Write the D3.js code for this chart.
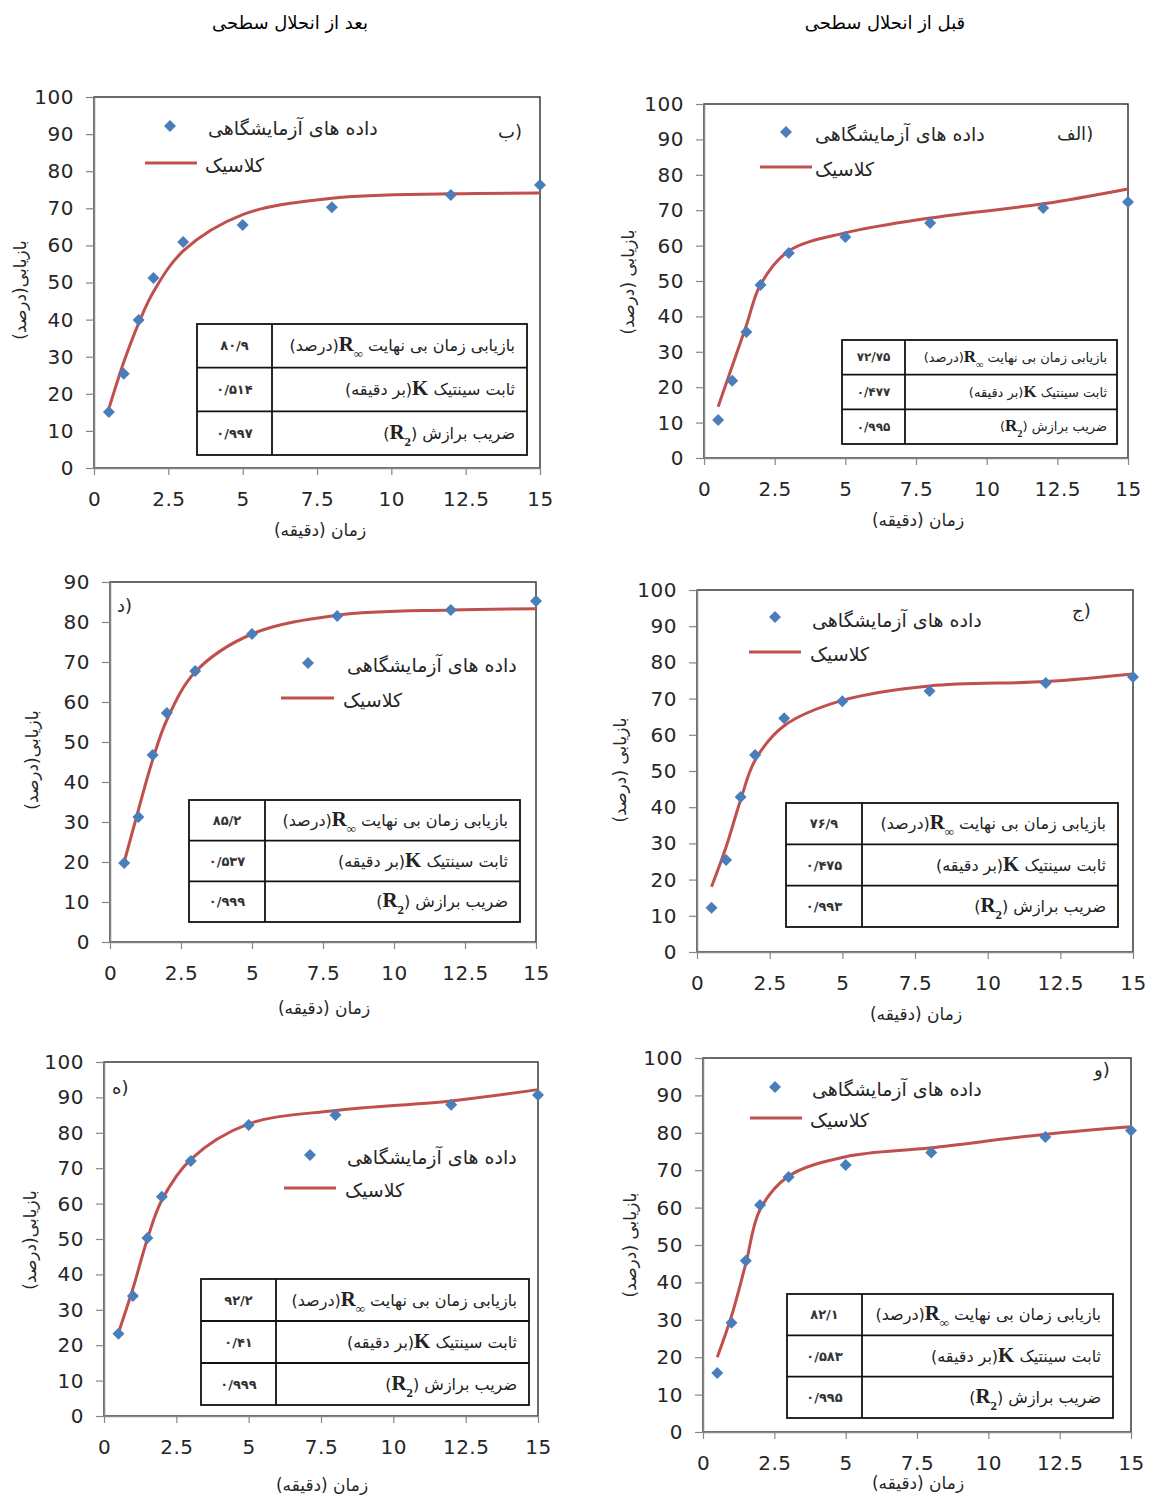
<!DOCTYPE html>
<html>
<head>
<meta charset="utf-8">
<script src="https://cdn.jsdelivr.net/npm/d3@7"></script>
<style>
  body { margin: 0; background: #fff; }
  svg { display: block; }
  .tick text { font-family: "DejaVu Sans", Verdana, sans-serif; }
</style>
</head>
<body>
<div id="chart"></div>
<script>
const width = 1157;
const height = 1501;

// sampling times (minutes) shared by every panel
const times = [0.5, 1, 1.5, 2, 3, 5, 8, 12, 15];
const xTicks = [0, 2.5, 5, 7.5, 10, 12.5, 15];

// lab data (diamonds) and classic model (red line)
const obsAlef = [10.7, 21.8, 35.6, 48.9, 57.9, 62.4, 66.4, 70.6, 72.3];
const fitAlef = [14.5, 26, 37.5, 49, 58.5, 63.6, 67.8, 71.8, 76];
const obsB = [15.1, 25.4, 39.9, 51.2, 60.9, 65.5, 70.3, 73.6, 76.3];
const fitB = [16, 28.5, 39, 47.5, 58.5, 68.3, 72.7, 73.9, 74.1];
const obsJim = [12.2, 25.4, 42.8, 54.4, 64.6, 69.3, 72.1, 74.3, 76];
const fitJim = [18, 29, 42, 53, 62.5, 69.5, 73.5, 74.7, 76.8];
const obsDal = [19.75, 31.25, 46.75, 57.25, 67.75, 77, 81.5, 83, 85.25];
const fitDal = [20, 33, 45.5, 55.5, 67.5, 77, 81.7, 83, 83.3];
const obsVav = [15.8, 29.2, 45.8, 60.7, 68.2, 71.4, 74.7, 78.9, 80.6];
const fitVav = [20, 31, 45, 59.5, 68.4, 73.6, 76, 79.6, 81.6];
const obsHe = [23.2, 33.9, 50.3, 61.9, 72, 82.2, 85, 87.9, 90.7];
const fitHe = [23.5, 36, 50, 61, 72.5, 82.5, 86.3, 89, 92.2];

// fitted parameters: R-infinity, K, R2
const tableAlef = ["۷۲/۷۵", "۰/۴۷۷", "۰/۹۹۵"];
const tableB = ["۸۰/۹", "۰/۵۱۴", "۰/۹۹۷"];
const tableJim = ["۷۶/۹", "۰/۴۷۵", "۰/۹۹۳"];
const tableDal = ["۸۵/۲", "۰/۵۳۷", "۰/۹۹۹"];
const tableVav = ["۸۲/۱", "۰/۵۸۳", "۰/۹۹۵"];
const tableHe = ["۹۲/۲", "۰/۴۱", "۰/۹۹۹"];

const colTitles = ["بعد از انحلال سطحی", "قبل از انحلال سطحی"];
const legendObs = "داده های آزمایشگاهی";
const legendFit = "کلاسیک";
const xTitle = "زمان (دقیقه)";

const blue = "#4a7ebb";
const red = "#c0504d";
const axisGray = "#868686";
const txt = "#262626";
const persian = "'DejaVu Sans', sans-serif";

const panels = [
  { label: "ب)", obs: obsB, fit: fitB, table: tableB, yMax: 100, yTitle: "بازیابی(درصد)",
    left: 94, right: 540, top: 97, bottom: 468,
    lab: [498, 138], mk: [170, 126], t1: [208, 135], ln: [145, 197, 163], t2: [205, 172],
    tb: [197, 527, 324, 455, 272], tfs: 16, xt: [320, 536], yt: [20, 290] },
  { label: "الف)", obs: obsAlef, fit: fitAlef, table: tableAlef, yMax: 100, yTitle: "بازیابی (درصد)",
    left: 704, right: 1128, top: 104, bottom: 458,
    lab: [1057, 140], mk: [786, 132], t1: [815, 141], ln: [760, 812, 167], t2: [815, 176],
    tb: [842, 1117, 340, 444, 905], tfs: 13, xt: [918, 526], yt: [628, 282] },
  { label: "د)", obs: obsDal, fit: fitDal, table: tableDal, yMax: 90, yTitle: "بازیابی(درصد)",
    left: 110, right: 536, top: 582, bottom: 942,
    lab: [117, 612], mk: [308, 663], t1: [347, 672], ln: [281, 334, 698], t2: [343, 707],
    tb: [189, 520, 800, 922, 265], tfs: 16, xt: [324, 1014], yt: [32, 760] },
  { label: "ج)", obs: obsJim, fit: fitJim, table: tableJim, yMax: 100, yTitle: "بازیابی (درصد)",
    left: 697, right: 1133, top: 590, bottom: 952,
    lab: [1072, 617], mk: [775, 617], t1: [812, 627], ln: [749, 801, 652], t2: [810, 661],
    tb: [786, 1118, 803, 927, 862], tfs: 16, xt: [916, 1020], yt: [620, 770] },
  { label: "ه)", obs: obsHe, fit: fitHe, table: tableHe, yMax: 100, yTitle: "بازیابی(درصد)",
    left: 104, right: 538, top: 1062, bottom: 1416,
    lab: [112, 1094], mk: [310, 1155], t1: [347, 1164], ln: [284, 336, 1188], t2: [345, 1197],
    tb: [201, 529, 1279, 1405, 276], tfs: 16, xt: [322, 1491], yt: [30, 1240] },
  { label: "و)", obs: obsVav, fit: fitVav, table: tableVav, yMax: 100, yTitle: "بازیابی (درصد)",
    left: 703, right: 1131, top: 1058, bottom: 1432,
    lab: [1094, 1076], mk: [775, 1087], t1: [812, 1096], ln: [750, 802, 1118], t2: [810, 1127],
    tb: [787, 1113, 1294, 1418, 862], tfs: 16, xt: [918, 1489], yt: [630, 1245] }
];

const svg = d3
  .select("#chart")
  .append("svg")
  .attr("width", width)
  .attr("height", height);

svg.selectAll("text.coltitle")
  .data(colTitles)
  .join("text")
  .attr("class", "coltitle")
  .attr("x", (d, i) => (i === 0 ? 290 : 885))
  .attr("y", 29)
  .attr("text-anchor", "middle")
  .attr("direction", "rtl")
  .style("font-family", persian)
  .style("font-size", "18px")
  .attr("fill", "#000")
  .text((d) => d);

const diamond = d3.symbol().type(d3.symbolSquare).size(72);

function drawPanel(p) {
  const g = svg.append("g");
  const x = d3.scaleLinear().domain([0, 15]).range([p.left, p.right]);
  const y = d3.scaleLinear().domain([0, p.yMax]).range([p.bottom, p.top]);

  // plot area border
  g.append("rect")
    .attr("x", p.left)
    .attr("y", p.top)
    .attr("width", p.right - p.left)
    .attr("height", p.bottom - p.top)
    .attr("fill", "none")
    .attr("stroke", "#3a3a3a")
    .attr("stroke-width", 1.5);

  const yAxis = g.append("g")
    .attr("transform", `translate(${p.left},0)`)
    .call(d3.axisLeft(y).tickValues(d3.range(0, p.yMax + 1, 10)).tickSize(8).tickSizeOuter(0).tickPadding(12));
  const xAxis = g.append("g")
    .attr("transform", `translate(0,${p.bottom})`)
    .call(d3.axisBottom(x).tickValues(xTicks).tickFormat((d) => String(d)).tickSize(7).tickSizeOuter(0).tickPadding(17));
  [yAxis, xAxis].forEach((a) => {
    a.select(".domain").attr("stroke", axisGray).attr("stroke-width", 1.5);
    a.selectAll(".tick line").attr("stroke", axisGray).attr("stroke-width", 1.2);
    a.selectAll(".tick text").attr("fill", txt).style("font-size", "20px").style("letter-spacing", "0.5px");
  });

  // axis titles
  g.append("text")
    .attr("transform", `translate(${p.xt[0]},${p.xt[1]})`)
    .attr("text-anchor", "middle")
    .attr("direction", "rtl")
    .style("font-family", persian)
    .style("font-size", "17px")
    .attr("fill", txt)
    .text(xTitle);
  g.append("text")
    .attr("transform", `translate(${p.yt[0]},${p.yt[1]}) rotate(-90)`)
    .attr("text-anchor", "middle")
    .attr("dominant-baseline", "central")
    .attr("direction", "rtl")
    .style("font-family", persian)
    .style("font-size", "17px")
    .attr("fill", txt)
    .text(p.yTitle);

  // fitted curve
  const line = d3.line()
    .x((d, i) => x(times[i]))
    .y((d) => y(d))
    .curve(d3.curveCatmullRom.alpha(0.5));
  g.append("path")
    .attr("d", line(p.fit))
    .attr("fill", "none")
    .attr("stroke", red)
    .attr("stroke-width", 3);

  // experimental points
  g.selectAll("path.pt")
    .data(p.obs)
    .join("path")
    .attr("class", "pt")
    .attr("d", diamond)
    .attr("transform", (d, i) => `translate(${x(times[i])},${y(d)}) rotate(45)`)
    .attr("fill", blue);

  // legend
  g.append("path")
    .attr("d", diamond)
    .attr("transform", `translate(${p.mk[0]},${p.mk[1]}) rotate(45)`)
    .attr("fill", blue);
  g.append("text")
    .attr("x", p.t1[0]).attr("y", p.t1[1])
    .style("font-family", persian)
    .style("font-size", "19px")
    .attr("fill", txt)
    .text(legendObs);
  g.append("line")
    .attr("x1", p.ln[0]).attr("x2", p.ln[1])
    .attr("y1", p.ln[2]).attr("y2", p.ln[2])
    .attr("stroke", red)
    .attr("stroke-width", 3);
  g.append("text")
    .attr("x", p.t2[0]).attr("y", p.t2[1])
    .style("font-family", persian)
    .style("font-size", "19px")
    .attr("fill", txt)
    .text(legendFit);

  // panel letter
  g.append("text")
    .attr("x", p.lab[0]).attr("y", p.lab[1])
    .style("font-family", persian)
    .style("font-size", "18px")
    .attr("fill", txt)
    .text(p.label);

  // parameter table
  const [tx0, tx1, ty0, ty1, split] = p.tb;
  const rowH = (ty1 - ty0) / 3;
  const tg = g.append("g");
  tg.append("rect")
    .attr("x", tx0).attr("y", ty0)
    .attr("width", tx1 - tx0).attr("height", ty1 - ty0)
    .attr("fill", "#fff")
    .attr("stroke", "#111")
    .attr("stroke-width", 1.8);
  tg.append("line")
    .attr("x1", split).attr("x2", split)
    .attr("y1", ty0).attr("y2", ty1)
    .attr("stroke", "#111").attr("stroke-width", 1.8);
  [1, 2].forEach((r) => {
    tg.append("line")
      .attr("x1", tx0).attr("x2", tx1)
      .attr("y1", ty0 + r * rowH).attr("y2", ty0 + r * rowH)
      .attr("stroke", "#111").attr("stroke-width", 1.8);
  });

  tg.selectAll("text.val")
    .data(p.table)
    .join("text")
    .attr("class", "val")
    .attr("x", (tx0 + split) / 2)
    .attr("y", (d, i) => ty0 + rowH * (i + 0.5))
    .attr("text-anchor", "middle")
    .attr("dominant-baseline", "central")
    .style("font-family", persian)
    .style("font-size", `${Math.max(p.tfs - 3, 12)}px`)
    .style("font-weight", "bold")
    .attr("fill", "#333")
    .text((d) => d);

  const fs = p.tfs;
  const rows = [
    ["بازیابی زمان بی نهایت ", "R", "∞", "(درصد)"],
    ["ثابت سینتیک ", "K", null, "(بر دقیقه)"],
    ["ضریب برازش (", "R", "2", ")"]
  ];
  rows.forEach((r, i) => {
    const t = tg.append("text")
      .attr("x", tx1 - (fs < 15 ? 10 : 12))
      .attr("y", ty0 + rowH * (i + 0.5) + fs * 0.35)
      .attr("direction", "rtl")
      .attr("text-anchor", "start")
      .style("font-family", persian)
      .style("font-size", `${fs}px`)
      .attr("fill", "#222");
    t.append("tspan").text(r[0] + "\u2066");
    t.append("tspan")
      .style("font-family", "'Liberation Serif', serif")
      .style("font-weight", "bold")
      .style("font-size", `${fs * 1.3}px`)
      .text(r[1]);
    if (r[2]) {
      t.append("tspan")
        .attr("baseline-shift", "sub")
        .style("font-family", "'Liberation Serif', serif")
        .style("font-weight", "bold")
        .style("font-size", `${fs * 0.8}px`)
        .text(r[2]);
    }
    t.append("tspan").text("\u2069" + r[3]);
  });
}

panels.forEach(drawPanel);
</script>
</body>
</html>
